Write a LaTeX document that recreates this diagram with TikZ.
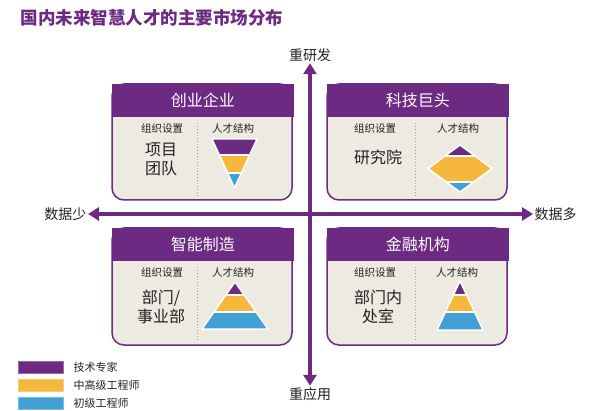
\documentclass[tikz,border=0pt]{standalone}
\usepackage{fontspec}
\setmainfont{Noto Sans CJK SC}
\usepackage{tikz}
\usetikzlibrary{arrows.meta}
\definecolor{mktPurple}{HTML}{6C2A82}
\definecolor{mktBeige}{HTML}{EDEAE2}
\definecolor{mktYellow}{HTML}{F5B83D}
\definecolor{mktBlue}{HTML}{41A0D6}
\definecolor{mktDots}{HTML}{B58DBB}
\definecolor{mktText}{HTML}{222222}

% banded talent shape: #1 outline path, #2 and #3 the two band borders (y)
\newcommand{\talentshape}[3]{%
  \begin{scope}
    \clip #1;
    \fill[mktPurple] (0,0) rectangle (607,#2);
    \fill[mktYellow] (0,#2) rectangle (607,#3);
    \fill[mktBlue] (0,#3) rectangle (607,411);
    \draw[white, line width=2pt] (0,#2) -- (607,#2) (0,#3) -- (607,#3);
  \end{scope}
  \draw[white, line width=1.5pt, line join=round] #1;}

\begin{document}
\begin{tikzpicture}[
    x=1pt, y=-1pt,
    body/.style={fill=mktBeige, draw=mktPurple, line width=1.5pt, rounded corners=12pt},
    head/.style={fill=mktPurple, draw=mktPurple, line width=1.5pt, text=white, anchor=north west,
      minimum width=180pt, minimum height=32pt, inner sep=0pt, font=\fontsize{16}{19}\selectfont},
    sub/.style={text=mktText, font=\fontsize{10.5}{12}\selectfont},
    org/.style={text=mktText, align=center, font=\fontsize{16}{19}\selectfont},
    divider/.style={draw=mktDots, dotted, line width=1pt},
    axislbl/.style={text=mktText, inner sep=1.5pt, font=\fontsize{14}{16}\selectfont},
    axis/.style={{Triangle[length=11pt,width=13pt]}-{Triangle[length=11pt,width=13pt]}, line width=3.5pt, draw=mktPurple},
    swatch/.style={fill=#1, draw=#1!70!white, line width=0.6pt},
    legend/.style={anchor=west, text=mktText, font=\fontsize{11}{13}\selectfont}
  ]
  \useasboundingbox (0,0) rectangle (607,411);

  \node[anchor=west, text=mktPurple, font=\fontsize{17.5}{20}\selectfont\bfseries] (title) at (17,18) {国内未来智慧人才的主要市场分布};

  % axes
  \node[axislbl] (up) at (310,55) {重研发};
  \node[axislbl] (down) at (310,394) {重应用};
  \node[axislbl, anchor=east] (less) at (88,214) {数据少};
  \node[axislbl, anchor=west] (more) at (533,214) {数据多};
  \draw[axis] (up.south) -- (down.north);
  \draw[axis] (less.east) -- (more.west);

  % top left
  \draw[body] (112,84) rectangle (292,200);
  \node[head] (startup) at (112,84) {创业企业};
  \node[sub] (orgTL) at (162,129) {组织设置};
  \node[sub] (talTL) at (233,129) {人才结构};
  \node[org] (unitTL) at (161,159) {项目\\团队};
  \draw[divider] (197,123) -- (197,196);
  \talentshape{(212,139) -- (257,139) -- (234.5,188) -- cycle}{155}{173}

  % top right
  \draw[body] (327,84) rectangle (507,200);
  \node[head] (tech) at (327,84) {科技巨头};
  \node[sub] (orgTR) at (375,129) {组织设置};
  \node[sub] (talTR) at (458,129) {人才结构};
  \node[org] (unitTR) at (378,157) {研究院};
  \draw[divider] (415,123) -- (415,196);
  \talentshape{(460,145) -- (492,168.5) -- (460,192) -- (428,168.5) -- cycle}{156.5}{182.5}

  % bottom left
  \draw[body] (112,228) rectangle (292,345);
  \node[head] (manuf) at (112,228) {智能制造};
  \node[sub] (orgBL) at (162,273) {组织设置};
  \node[sub] (talBL) at (233,273) {人才结构};
  \node[org] (unitBL) at (161,307) {部门/\\事业部};
  \draw[divider] (197,267) -- (197,341);
  \talentshape{(235,282) -- (268,329) -- (202,329) -- cycle}{295}{312}

  % bottom right
  \draw[body] (327,228) rectangle (507,345);
  \node[head] (finance) at (327,228) {金融机构};
  \node[sub] (orgBR) at (375,273) {组织设置};
  \node[sub] (talBR) at (457,273) {人才结构};
  \node[org] (unitBR) at (378,307) {部门内\\处室};
  \draw[divider] (415,267) -- (415,341);
  \talentshape{(460,281) -- (483,330) -- (437,330) -- cycle}{295.5}{312}

  % legend
  \fill[swatch=mktPurple] (18,361) rectangle (63,373);
  \fill[swatch=mktYellow] (18,379) rectangle (63,391);
  \fill[swatch=mktBlue] (18,397) rectangle (63,409);
  \node[legend] (expert) at (70,367) {技术专家};
  \node[legend] (senior) at (70,385) {中高级工程师};
  \node[legend] (junior) at (70,403) {初级工程师};
\end{tikzpicture}
\end{document}
